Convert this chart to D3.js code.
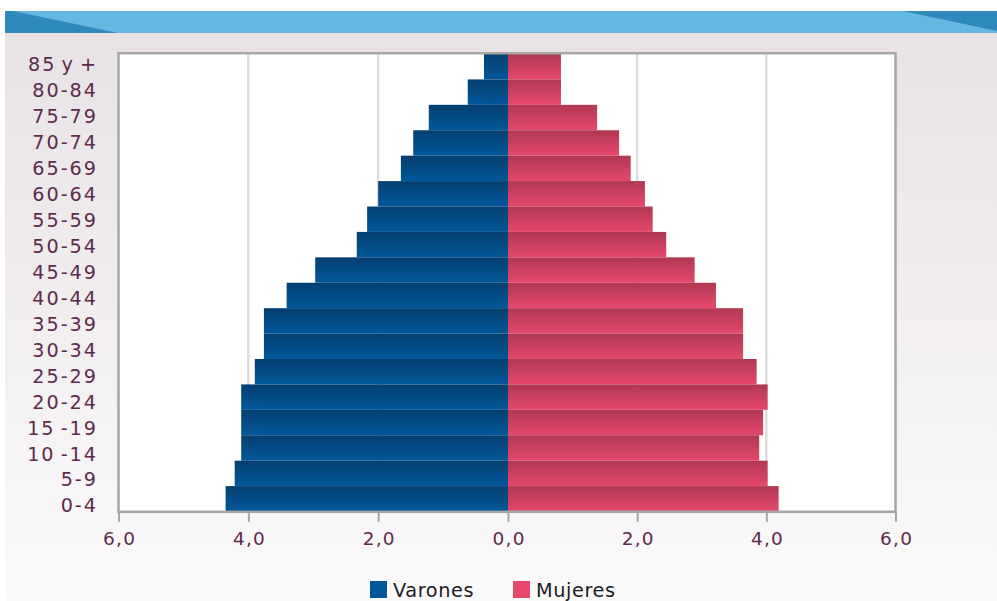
<!DOCTYPE html>
<html>
<head>
<meta charset="utf-8">
<script src="https://cdn.jsdelivr.net/npm/d3@7"></script>
<style>
  html, body { margin: 0; padding: 0; background: #ffffff; }
  svg { display: block; }
  text { font-family: "DejaVu Sans", sans-serif; }
</style>
</head>
<body>
<svg id="chart" width="997" height="601"></svg>
<script>
// Age groups, from the oldest (top) to the youngest (bottom)
const ageGroups = ["85 y +", "80-84", "75-79", "70-74", "65-69", "60-64", "55-59", "50-54",
  "45-49", "40-44", "35-39", "30-34", "25-29", "20-24", "15 -19", "10 -14", "5-9", "0-4"];

// Share of the population (%) by sex
const varones = [0.37, 0.62, 1.22, 1.46, 1.65, 2.00, 2.17, 2.33,
  2.97, 3.41, 3.76, 3.76, 3.90, 4.11, 4.11, 4.11, 4.21, 4.35];
const mujeres = [0.82, 0.82, 1.38, 1.72, 1.90, 2.12, 2.24, 2.45,
  2.89, 3.22, 3.64, 3.64, 3.85, 4.02, 3.95, 3.89, 4.02, 4.19];

const xTicks = [-6, -4, -2, 0, 2, 4, 6];
const seriesNames = ["Varones", "Mujeres"];

const svg = d3.select("#chart");
const defs = svg.append("defs");

// Page background: banner on top and a soft panel below
const panelGrad = defs.append("linearGradient").attr("id", "panelGrad")
  .attr("x1", 0).attr("y1", 0).attr("x2", 0).attr("y2", 1);
panelGrad.append("stop").attr("offset", "0%").attr("stop-color", "#e8e2e5");
panelGrad.append("stop").attr("offset", "100%").attr("stop-color", "#fbfafb");
svg.append("rect").attr("x", 5).attr("y", 33).attr("width", 992).attr("height", 568)
  .attr("fill", "url(#panelGrad)");

svg.append("rect").attr("x", 5).attr("y", 11).attr("width", 992).attr("height", 22)
  .attr("fill", "#63b7e1");
svg.append("path").attr("d", "M5,11 L13,11 L118,33 L5,33 Z").attr("fill", "#2f89bc");
svg.append("path").attr("d", "M903,11 L997,11 L997,31 Z").attr("fill", "#2f89bc");

// Bar gradients (darker at the top of each bar)
function barGradient(id, top, bottom) {
  const g = defs.append("linearGradient").attr("id", id)
    .attr("x1", 0).attr("y1", 0).attr("x2", 0).attr("y2", 1);
  g.append("stop").attr("offset", "0%").attr("stop-color", top);
  g.append("stop").attr("offset", "100%").attr("stop-color", bottom);
}
barGradient("gradV", "#043f70", "#01589b");
barGradient("gradM", "#b03852", "#e6486b");

// Scales
const x = d3.scaleLinear().domain([-6, 0, 6]).range([118.5, 508, 895.5]);
const y = d3.scaleBand().domain(ageGroups).range([54, 511.5]).padding(0);
const yLabel = d3.scalePoint().domain(ageGroups).range([64, 505]);

// Plot area
svg.append("rect").attr("x", x(-6)).attr("y", 53).attr("width", x(6) - x(-6)).attr("height", 511.5 - 53)
  .attr("fill", "#ffffff");

// Vertical gridlines
svg.append("g").selectAll("line")
  .data(xTicks.filter(d => Math.abs(d) !== 6))
  .join("line")
  .attr("x1", d => x(d)).attr("x2", d => x(d))
  .attr("y1", 53).attr("y2", 511.5)
  .attr("stroke", "#dcdcdc").attr("stroke-width", 2.4);

// Bars
const rows = ageGroups.map((g, i) => ({ group: g, v: varones[i], m: mujeres[i] }));
svg.append("g").selectAll("rect")
  .data(rows).join("rect")
  .attr("x", d => x(-d.v)).attr("y", d => y(d.group))
  .attr("width", d => x(0) - x(-d.v)).attr("height", y.bandwidth())
  .attr("fill", "url(#gradV)");
svg.append("g").selectAll("rect")
  .data(rows).join("rect")
  .attr("x", x(0)).attr("y", d => y(d.group))
  .attr("width", d => x(d.m) - x(0)).attr("height", y.bandwidth())
  .attr("fill", "url(#gradM)");

// Frame
svg.append("rect").attr("x", x(-6)).attr("y", 53.2).attr("width", x(6) - x(-6)).attr("height", 511.8 - 53.2)
  .attr("fill", "none").attr("stroke", "#a6a6a6").attr("stroke-width", 2.5);

// Bottom axis
const fmt = d => Math.abs(d).toFixed(1).replace(".", ",");
const xAxis = svg.append("g").attr("transform", "translate(0,512)")
  .call(d3.axisBottom(x).tickValues(xTicks).tickFormat(fmt).tickSize(10).tickPadding(10));
xAxis.select(".domain").remove();
xAxis.selectAll(".tick line").attr("stroke", "#a6a6a6").attr("stroke-width", 2);
xAxis.selectAll(".tick text").attr("fill", "#5e2b4b").attr("font-size", 18.5)
  .attr("letter-spacing", 1.2).attr("dx", 0.6).attr("font-family", "'DejaVu Sans', sans-serif");

// Left axis (age groups)
const yAxis = svg.append("g").attr("transform", "translate(98,0)")
  .call(d3.axisLeft(yLabel).tickSize(0).tickPadding(0));
yAxis.select(".domain").remove();
yAxis.selectAll(".tick text").attr("fill", "#5e2b4b").attr("font-size", 19.2)
  .attr("letter-spacing", 2).attr("word-spacing", -3)
  .attr("font-family", "'DejaVu Sans', sans-serif")
  .attr("dy", "0.36em");

// Legend
const color = d3.scaleOrdinal().domain(seriesNames).range(["#01579a", "#e6486b"]);
const legendX = d3.scaleOrdinal().domain(seriesNames).range([370, 513]);
const legend = svg.append("g").selectAll("g").data(seriesNames).join("g")
  .attr("transform", d => `translate(${legendX(d)},581)`);
legend.append("rect").attr("width", 17).attr("height", 17).attr("fill", d => color(d));
legend.append("text").attr("x", 23).attr("y", 15.5).text(d => d)
  .attr("fill", "#1c1c1c").attr("font-size", 19.3).attr("letter-spacing", 0.6)
  .attr("font-family", "'DejaVu Sans', sans-serif");
</script>
</body>
</html>
